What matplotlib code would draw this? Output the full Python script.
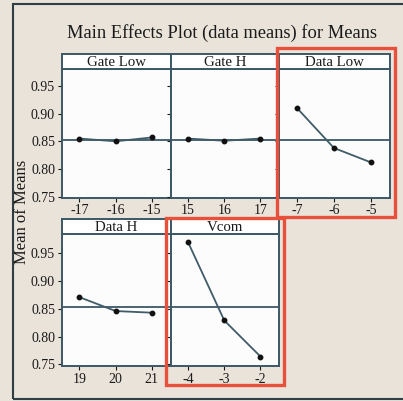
import matplotlib
matplotlib.use("Agg")
import matplotlib.pyplot as plt
from matplotlib.patches import Rectangle

# ---- data ----
factors = ["Gate Low", "Gate H", "Data Low", "Data H", "Vcom"]
levels = [[-17, -16, -15], [15, 16, 17], [-7, -6, -5], [19, 20, 21], [-4, -3, -2]]
means = [
    [0.855, 0.850, 0.857],
    [0.855, 0.851, 0.855],
    [0.910, 0.838, 0.812],
    [0.871, 0.846, 0.843],
    [0.970, 0.829, 0.764],
]
grand_mean = 0.853
yticks = [0.75, 0.80, 0.85, 0.90, 0.95]
ytick_labels = ["0.75", "0.80", "0.85", "0.90", "0.95"]
title = "Main Effects Plot (data means) for Means"
ylabel = "Mean of Means"
highlighted = ["Data Low", "Vcom"]

W, H = 403, 401
fig = plt.figure(figsize=(W / 100, H / 100), dpi=100)
BG = "#e9e3d9"
fig.patch.set_facecolor(BG)
plt.rcParams["font.family"] = ["Liberation Serif", "DejaVu Serif"]

SP = "#3b5866"
LINE = "#3f5c68"


def fx(x):
    return x / W


def fy(y):
    return 1 - y / H


# outer frame
fig.add_artist(Rectangle((fx(13), fy(399)), fx(420) - fx(13), fy(4) - fy(399),
                         transform=fig.transFigure, fill=False, ec="#2f3f45", lw=1.5))

fig.text(fx(222), fy(33), title, ha="center", va="center", fontsize=13.3, color="#1a1a1a")
fig.text(fx(22), fy(212), ylabel, ha="center", va="center", rotation=90, fontsize=12, color="#1a1a1a")

xs = [62, 170.7, 279.3, 390]
rows = [
    dict(head=54, top=69, bottom=197.5, ylim=(0.7486, 0.9805)),
    dict(head=219, top=234, bottom=365.7, ylim=(0.7475, 0.9848)),
]

for i, name in enumerate(factors):
    r, c = divmod(i, 3)
    row = rows[r]
    x0, x1 = xs[c], xs[c + 1]
    ax = fig.add_axes([fx(x0), fy(row["bottom"]), fx(x1) - fx(x0), fy(row["top"]) - fy(row["bottom"])])
    ax.set_facecolor("#fcfcfd")
    lv = levels[i]
    ax.axhline(grand_mean, color=SP, lw=1.3, zorder=1)
    ax.plot(lv, means[i], color=LINE, lw=1.3, marker="o", ms=3.2, mfc="#111111", mec="#111111", zorder=3)
    ax.set_xlim(lv[0] - 0.48, lv[-1] + 0.52)
    ax.set_ylim(*row["ylim"])
    ax.set_xticks(lv)
    ax.set_xticklabels([str(v) for v in lv])
    ax.set_yticks(yticks)
    if c == 0:
        ax.set_yticklabels(ytick_labels)
    else:
        ax.set_yticklabels([])
        ax.tick_params(axis="y", length=0)
    ax.tick_params(axis="both", labelsize=10, colors="#1a1a1a", length=3, width=0.8, pad=2)
    for s in ax.spines.values():
        s.set_color(SP)
        s.set_linewidth(1.4)
    # header strip
    hax = fig.add_axes([fx(x0), fy(row["top"]), fx(x1) - fx(x0), fy(row["head"]) - fy(row["top"])])
    hax.set_facecolor("white")
    hax.set_xticks([])
    hax.set_yticks([])
    for s in hax.spines.values():
        s.set_color(SP)
        s.set_linewidth(1.4)
    hax.text(0.5, 0.45, name, ha="center", va="center", fontsize=10.7, color="#1a1a1a",
             transform=hax.transAxes)

    if name in highlighted:
        if r == 0:
            box = (276.7, 47.7, 395, 217)
        else:
            box = (165.7, 218, 284, 385)
        bx0, by0, bx1, by1 = box
        fig.add_artist(Rectangle((fx(bx0), fy(by1)), fx(bx1) - fx(bx0), fy(by0) - fy(by1),
                                 transform=fig.transFigure, fill=False, ec="#e8503c", lw=2.4,
                                 zorder=10))

fig.savefig("out.png", dpi=100, facecolor=BG)
